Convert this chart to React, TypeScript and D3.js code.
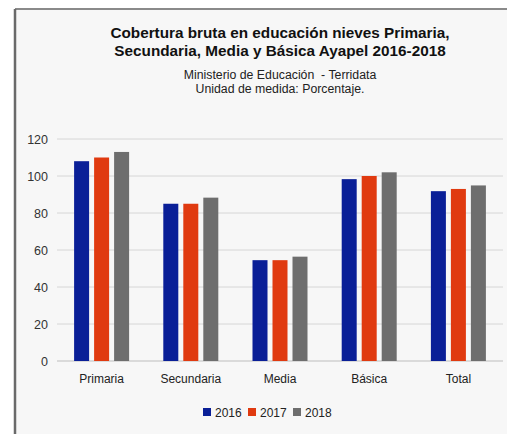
import React from "react";
import * as d3 from "d3";

const categories = ["Primaria", "Secundaria", "Media", "Básica", "Total"];
const years = ["2016", "2017", "2018"];
const values2016 = [108, 85, 54.5, 98.3, 91.8];
const values2017 = [110, 85, 54.5, 100, 93];
const values2018 = [113, 88.3, 56.4, 102, 94.9];
const yTicks = [0, 20, 40, 60, 80, 100, 120];
const colors = ["#0a1f97", "#e03a10", "#6e6e6e"];

export default function App() {
  const W = 507, H = 434;
  const left = 57, right = 503, top = 139, bottom = 361;
  const series = [values2016, values2017, values2018];
  const x0 = d3.scaleBand<string>().domain(categories).range([left, right]).paddingInner(0).paddingOuter(0);
  const groupW = 55;
  const x1 = d3.scaleBand<string>().domain(years).range([0, groupW]).paddingInner(0.25);
  const y = d3.scaleLinear().domain([0, 120]).range([bottom, top]);
  const font = "Liberation Sans, Arial, sans-serif";
  const legendX = [203, 248, 293];
  return (
    <svg width={W} height={H} style={{ position: "absolute", left: 0, top: 0 }} fontFamily={font}>
      <rect x={0} y={0} width={W} height={H} fill="#ffffff" />
      <rect x={15} y={9} width={W} height={H} fill="#f7f7f7" />
      <line x1={15} y1={9} x2={W} y2={9} stroke="#8a8a8a" strokeWidth={2} />
      <line x1={15} y1={9} x2={15} y2={H} stroke="#6a6a6a" strokeWidth={2.5} />
      <text x={280} y={38} textAnchor="middle" fontSize={15.3} fontWeight="bold" fill="#111">
        Cobertura bruta en educación nieves Primaria,
      </text>
      <text x={280} y={56} textAnchor="middle" fontSize={15.3} fontWeight="bold" fill="#111">
        Secundaria, Media y Básica Ayapel 2016-2018
      </text>
      <text x={280} y={79} textAnchor="middle" fontSize={12.3} fill="#222" style={{ whiteSpace: "pre" }}>
        {"Ministerio de Educación  - Terridata"}
      </text>
      <text x={280} y={93} textAnchor="middle" fontSize={12.3} fill="#222">
        Unidad de medida: Porcentaje.
      </text>
      {yTicks.map((t) => (
        <g key={t}>
          <line x1={left} x2={right} y1={y(t)} y2={y(t)} stroke={t === 0 ? "#bdbdbd" : "#d6d6d6"} strokeWidth={1} />
          <text x={48} y={y(t) + 4.5} textAnchor="end" fontSize={12.5} fill="#333">
            {t}
          </text>
        </g>
      ))}
      {categories.map((c, i) => {
        const gx = (x0(c) as number) + (x0.bandwidth() - groupW) / 2;
        return (
          <g key={c}>
            {series.map((s, k) => (
              <rect
                key={k}
                x={gx + (x1(years[k]) as number)}
                y={y(s[i])}
                width={x1.bandwidth()}
                height={y(0) - y(s[i])}
                fill={colors[k]}
              />
            ))}
            <text x={(x0(c) as number) + x0.bandwidth() / 2} y={383} textAnchor="middle" fontSize={12} fill="#222">
              {c}
            </text>
          </g>
        );
      })}
      {years.map((yr, k) => (
        <g key={yr}>
          <rect x={legendX[k]} y={408} width={8} height={8} fill={colors[k]} />
          <text x={legendX[k] + 12} y={416.5} fontSize={12} fill="#222">
            {yr}
          </text>
        </g>
      ))}
    </svg>
  );
}
